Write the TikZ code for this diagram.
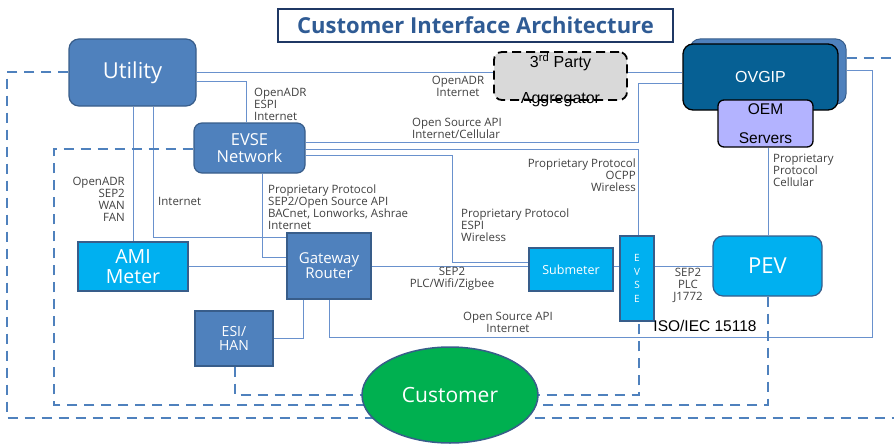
\documentclass[tikz,border=0pt]{standalone}
\usepackage{fontspec}
\setmainfont{Open Sans}
\newfontfamily\arialfont{Liberation Sans}
\usetikzlibrary{shapes.geometric}
\definecolor{steel}{RGB}{79,129,189}
\definecolor{steeldark}{RGB}{56,93,138}
\definecolor{sky}{RGB}{0,176,240}
\definecolor{wire}{RGB}{105,145,205}
\definecolor{labelgrey}{RGB}{64,64,64}
\definecolor{navy}{RGB}{31,56,100}
\definecolor{titleblue}{RGB}{47,91,148}
\definecolor{ovgipblue}{RGB}{6,96,148}
\definecolor{oemlilac}{RGB}{179,179,255}
\definecolor{aggrgrey}{RGB}{217,217,217}
\definecolor{custgreen}{RGB}{0,176,80}
\begin{document}
\begin{tikzpicture}[x=1pt,y=-1pt,
%scale=.5, every node/.style={scale=0.6},
bluebox/.style={draw=steeldark,fill=steel,line width=1.2pt,text=white,inner sep=0pt,align=center},
cyanbox/.style={draw=steeldark,fill=sky,line width=1.2pt,text=white,inner sep=0pt,align=center},
link/.style={draw=wire,line width=0.9pt},
zone/.style={draw=steel,line width=2.4pt,dash pattern=on 10pt off 7pt},
lbl/.style={text=labelgrey,inner sep=0pt,font=\fontsize{11.5}{12}\selectfont},
%lbl/.style={text=labelgrey,font=\footnotesize},
]
\useasboundingbox (0,0) rectangle (894,444);

\node [draw=navy,line width=2.2pt,minimum width=395pt,minimum height=33pt,text=titleblue,
	font=\bfseries\fontsize{22}{24}\selectfont] (title) at (475.5,25.5) {Customer Interface Architecture};

\node [bluebox,rounded corners=10pt,minimum width=127pt,minimum height=67pt,font=\fontsize{22}{24}\selectfont] (utility) at (132.5,72.5) {Utility};
\node [bluebox,rounded corners=8pt,minimum width=111pt,minimum height=50pt,font=\fontsize{16.5}{17}\selectfont] (evsenet) at (249.5,148) {EVSE\\Network};
\node [cyanbox,minimum width=110pt,minimum height=49pt,font=\fontsize{19.5}{20}\selectfont] (ami) at (133,266.5) {AMI\\Meter};
\node [bluebox,minimum width=84pt,minimum height=66pt,font=\fontsize{15}{15}\selectfont] (gateway) at (329,266) {Gateway\\Router};
\node [bluebox,minimum width=78pt,minimum height=55pt,font=\fontsize{14}{14.5}\selectfont] (esihan) at (234,338.5) {ESI/\\HAN};
\node [cyanbox,minimum width=84pt,minimum height=43pt,font=\fontsize{12.5}{14}\selectfont] (submeter) at (571,269.5) {Submeter};
\node [cyanbox,minimum width=34pt,minimum height=85pt,font=\fontsize{10}{13.7}\selectfont] (evse) at (637,278.5) {E\\V\\S\\E};
\node [cyanbox,rounded corners=10pt,minimum width=109pt,minimum height=60pt,font=\fontsize{22}{24}\selectfont] (pev) at (767.5,266) {PEV};

% OVGIP with OEM servers in front
\node [draw=steeldark,fill=steel,line width=1pt,rounded corners=10pt,minimum width=156pt,minimum height=65pt] (ovgipback) at (768,71.5) {};
\node [draw=black,fill=ovgipblue,line width=1.3pt,rounded corners=10pt,minimum width=155pt,minimum height=66pt,
	text=white,font=\arialfont\fontsize{16}{18}\selectfont] (ovgip) at (760.5,77) {OVGIP};
\node [draw=black,fill=oemlilac,line width=1.3pt,rounded corners=6pt,minimum width=95pt,minimum height=47pt,inner sep=0pt,
	align=center,font=\arialfont\fontsize{15.5}{29}\selectfont] (oem) at (765.5,123.5) {OEM\\Servers};

\node [draw=black,fill=aggrgrey,line width=1.8pt,dash pattern=on 9pt off 5pt,rounded corners=8pt,
	minimum width=133pt,minimum height=48pt] (aggr) at (560.5,76) {};
\node [inner sep=0pt,align=center,font=\arialfont\fontsize{16}{36}\selectfont] (aggrtext) at ([yshift=-4pt]aggr.center)
	{3\textsuperscript{rd} Party\\Aggregator};

% solid links
\draw [link] (utility.east |- 0,72.5) -- (aggr.west |- 0,72.5);
\draw [link] (aggr.east |- 0,72.5) -- (ovgip.west |- 0,72.5);
\draw [link] (utility.east |- 0,81) -| (evsenet.north -| 246,0);
\draw [link] (utility.south -| 133,0) -- (ami.north -| 133,0);
\draw [link] (utility.south -| 153,0) |- (gateway.west |- 0,237);
\draw [link] (evsenet.south -| 262,0) |- (gateway.west |- 0,257);
\draw [link] (ami.east |- 0,266) -- (gateway.west |- 0,266);
\draw [link] (gateway.east |- 0,266) -- (submeter.west |- 0,266);
\draw [link] (submeter.east |- 0,266) -- (evse.west |- 0,266);
\draw [link] (evse.east |- 0,266) -- (pev.west |- 0,266);
\draw [link] (evsenet.east |- 0,142) -| (638,83) -- (ovgip.west |- 0,83);
\draw [link] (evsenet.east |- 0,149) -| (evse.north -| 638,0);
\draw [link] (evsenet.east |- 0,155) -| (452,262) -- (submeter.west |- 0,262);
\draw [link] (oem.south -| 768,0) -- (pev.north -| 768,0);
\draw [link] (ovgipback.east |- 0,70) -| (872,337) -| (gateway.south -| 329,0);
\draw [link] (gateway.south -| 303,0) |- (esihan.east |- 0,338);

% dashed customer domains
\draw [zone] (utility.west |- 0,72) -| (7,418) -- (894,418);
\draw [zone] (ovgipback.east |- 0,58) -- (894,58);
\draw [zone] (pev.south -| 768,0) |- (54,405) |- (evsenet.west |- 0,149);
\draw [zone] (esihan.south -| 235,0) |- (639,395) -- (evse.south -| 639,0);

\node [ellipse,draw=steeldark,line width=1.5pt,fill=custgreen,minimum width=176pt,minimum height=96pt,
	text=white,font=\fontsize{21}{22}\selectfont] (customer) at (450,395) {Customer};

% protocol labels
\node [lbl,anchor=west,align=left] (lutilnet) at (254,104) {OpenADR\\ESPI\\Internet};
\node [lbl,align=center] (lutilaggr) at (458,86) {OpenADR\\Internet};
\node [lbl,anchor=west,align=left] (lnetovgip) at (412,128) {Open Source API\\Internet/Cellular};
\node [lbl,anchor=east,align=right] (lutilami) at (125,199) {OpenADR\\SEP2\\WAN\\FAN};
\node [lbl,anchor=west] (lutilgw) at (158,201) {Internet};
\node [lbl,anchor=west,align=left] (lnetgw) at (268,207) {Proprietary Protocol\\SEP2/Open Source API\\BACnet, Lonworks, Ashrae\\Internet};
\node [lbl,anchor=east,align=right] (lnetevse) at (636,175) {Proprietary Protocol\\OCPP\\Wireless};
\node [lbl,anchor=west,align=left] (lnetsub) at (461,225) {Proprietary Protocol\\ESPI\\Wireless};
\node [lbl,align=center] (lgwsub) at (452,279) {SEP2\\PLC/Wifi/Zigbee};
\node [lbl,align=center] (levsepev) at (688,285) {SEP2\\PLC\\J1772};
\node [lbl,align=center] (lgwovgip) at (508,322) {Open Source API\\Internet};
\node [lbl,anchor=west,align=left] (loempev) at (773,170) {Proprietary\\Protocol\\Cellular};
\node [inner sep=0pt,font=\arialfont\fontsize{15.5}{18}\selectfont] (iso) at (705,326) {ISO/IEC 15118};
\end{tikzpicture}
\end{document}
